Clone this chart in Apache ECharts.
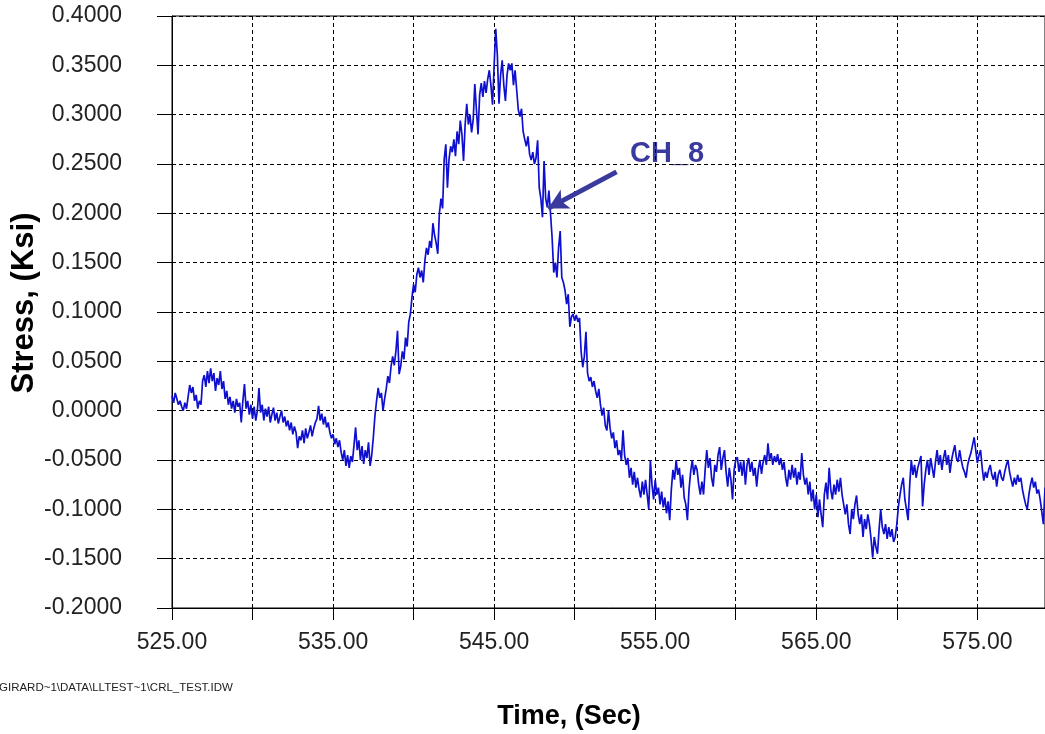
<!DOCTYPE html>
<html>
<head>
<meta charset="utf-8">
<script src="https://cdn.jsdelivr.net/npm/echarts@6/dist/echarts.min.js"></script>
<style>
html,body{margin:0;padding:0;background:#fff;}
#chart{width:1045px;height:734px;}
</style>
</head>
<body>
<div id="chart"></div>
<script>
// Sampling of the CH_8 trace (seconds)
const startTime = 525.0;
const sampleStep = 0.1;
// Stress values (Ksi), one row per second
const stress = [
 0.015, 0.008, 0.018, 0.012, 0.006, 0.010, 0.004, 0.000, 0.008, 0.002,
 0.014, 0.026, 0.018, 0.024, 0.010, 0.016, 0.002, 0.010, 0.006, 0.030,
 0.036, 0.024, 0.040, 0.028, 0.043, 0.030, 0.038, 0.020, 0.033, 0.026,
 0.040, 0.022, 0.030, 0.012, 0.020, 0.006, 0.014, 0.002, 0.010, -0.002,
 0.012, 0.004, 0.008, -0.012, 0.010, 0.027, 0.002, 0.010, -0.004, 0.006,
 -0.008, 0.004, -0.010, 0.000, 0.023, -0.002, 0.006, -0.010, 0.002, -0.006,
 0.004, -0.012, -0.004, 0.003, -0.010, -0.002, -0.013, -0.006, 0.000, -0.012,
 -0.006, -0.016, -0.010, -0.020, -0.012, -0.024, -0.016, -0.022, -0.038, -0.026,
 -0.030, -0.020, -0.033, -0.018, -0.028, -0.022, -0.015, -0.026, -0.018, -0.012,
 -0.008, 0.005, -0.010, -0.003, -0.014, -0.006, -0.017, -0.012, -0.022, -0.028,
 -0.024, -0.034, -0.028, -0.037, -0.030, -0.042, -0.050, -0.040, -0.056, -0.045,
 -0.058, -0.046, -0.052, -0.035, -0.017, -0.040, -0.030, -0.050, -0.036, -0.054,
 -0.040, -0.048, -0.032, -0.056, -0.045, -0.027, -0.005, 0.010, 0.023, 0.013,
 0.018, 0.000, 0.012, 0.022, 0.035, 0.028, 0.045, 0.055, 0.046, 0.060,
 0.081, 0.037, 0.045, 0.060, 0.052, 0.074, 0.065, 0.090, 0.098, 0.115,
 0.128, 0.120, 0.138, 0.145, 0.135, 0.142, 0.130, 0.152, 0.165, 0.158,
 0.172, 0.165, 0.190, 0.178, 0.170, 0.159, 0.200, 0.215, 0.205, 0.255,
 0.270, 0.226, 0.255, 0.268, 0.262, 0.275, 0.258, 0.283, 0.270, 0.294,
 0.280, 0.253, 0.290, 0.311, 0.290, 0.300, 0.282, 0.295, 0.331, 0.305,
 0.280, 0.320, 0.332, 0.318, 0.334, 0.322, 0.336, 0.345, 0.330, 0.310,
 0.350, 0.387, 0.360, 0.311, 0.340, 0.355, 0.330, 0.314, 0.340, 0.352,
 0.345, 0.352, 0.330, 0.345, 0.325, 0.305, 0.298, 0.306, 0.283, 0.275,
 0.268, 0.278, 0.260, 0.254, 0.262, 0.250, 0.256, 0.274, 0.226, 0.215,
 0.196, 0.253, 0.215, 0.206, 0.223, 0.200, 0.175, 0.140, 0.150, 0.135,
 0.165, 0.182, 0.135, 0.130, 0.122, 0.108, 0.118, 0.085, 0.095, 0.098,
 0.091, 0.097, 0.090, 0.094, 0.060, 0.044, 0.055, 0.080, 0.038, 0.030,
 0.034, 0.024, 0.030, 0.020, 0.013, 0.022, 0.006, -0.005, 0.003, -0.015,
 -0.020, 0.000, -0.018, -0.028, -0.022, -0.038, -0.030, -0.045, -0.040, -0.050,
 -0.020, -0.045, -0.055, -0.048, -0.068, -0.058, -0.075, -0.062, -0.078, -0.068,
 -0.080, -0.088, -0.072, -0.085, -0.070, -0.068, -0.100, -0.050, -0.075, -0.090,
 -0.070, -0.085, -0.078, -0.095, -0.082, -0.098, -0.088, -0.104, -0.092, -0.111,
 -0.080, -0.060, -0.070, -0.050, -0.065, -0.058, -0.078, -0.065, -0.088, -0.095,
 -0.111, -0.080, -0.062, -0.050, -0.065, -0.055, -0.060, -0.075, -0.085, -0.072,
 -0.085, -0.060, -0.040, -0.058, -0.048, -0.068, -0.077, -0.055, -0.062, -0.045,
 -0.037, -0.060, -0.048, -0.040, -0.062, -0.077, -0.058, -0.070, -0.090, -0.060,
 -0.050, -0.047, -0.062, -0.052, -0.066, -0.050, -0.075, -0.055, -0.048, -0.062,
 -0.052, -0.066, -0.058, -0.077, -0.060, -0.050, -0.064, -0.052, -0.045, -0.055,
 -0.033, -0.050, -0.043, -0.055, -0.046, -0.052, -0.044, -0.055, -0.048, -0.060,
 -0.052, -0.068, -0.077, -0.060, -0.070, -0.055, -0.068, -0.058, -0.075, -0.062,
 -0.070, -0.043, -0.065, -0.075, -0.068, -0.085, -0.072, -0.092, -0.080, -0.100,
 -0.085, -0.108, -0.090, -0.105, -0.118, -0.085, -0.073, -0.090, -0.058, -0.080,
 -0.090, -0.075, -0.085, -0.070, -0.082, -0.068, -0.085, -0.095, -0.105, -0.095,
 -0.115, -0.125, -0.100, -0.110, -0.095, -0.086, -0.105, -0.115, -0.105, -0.128,
 -0.110, -0.120, -0.105, -0.115, -0.130, -0.149, -0.128, -0.138, -0.145, -0.120,
 -0.100, -0.118, -0.125, -0.115, -0.130, -0.118, -0.128, -0.120, -0.133, -0.128,
 -0.115, -0.097, -0.085, -0.075, -0.068, -0.090, -0.100, -0.111, -0.075, -0.050,
 -0.065, -0.055, -0.068, -0.058, -0.052, -0.046, -0.097, -0.075, -0.060, -0.050,
 -0.065, -0.048, -0.058, -0.068, -0.052, -0.040, -0.055, -0.045, -0.060, -0.048,
 -0.040, -0.055, -0.045, -0.063, -0.050, -0.042, -0.035, -0.048, -0.052, -0.040,
 -0.050, -0.058, -0.062, -0.068, -0.055, -0.048, -0.043, -0.035, -0.027, -0.040,
 -0.053, -0.045, -0.040, -0.058, -0.071, -0.062, -0.068, -0.060, -0.055, -0.065,
 -0.070, -0.062, -0.077, -0.065, -0.060, -0.068, -0.071, -0.062, -0.055, -0.050,
 -0.062, -0.070, -0.077, -0.068, -0.075, -0.065, -0.072, -0.068, -0.080, -0.088,
 -0.095, -0.100, -0.085, -0.075, -0.068, -0.078, -0.072, -0.084, -0.080, -0.090,
 -0.088, -0.115, -0.078
];
// Axis settings
const xMin = 525, xMax = 579.2, xStep = 5, xLabelEvery = 10;
const yMin = -0.2, yMax = 0.4, yStep = 0.05;
const seriesName = 'CH_8';
const xTitle = 'Time, (Sec)';
const yTitle = 'Stress, (Ksi)';
const footerText = 'GIRARD~1\\DATA\\LLTEST~1\\CRL_TEST.IDW';
// Annotation arrow (data coordinates): tail and tip
const arrowTail = [552.6, 0.242];
const arrowTip = [548.35, 0.205];

const points = stress.map((v, i) => [+(startTime + i * sampleStep).toFixed(1), v]);

const FONT = "'Liberation Sans', Arial, sans-serif";
const chart = echarts.init(document.getElementById('chart'), null, {renderer: 'canvas'});
chart.setOption({
  animation: false,
  backgroundColor: '#ffffff',
  grid: {left: 172, top: 16, right: 0, bottom: 126, show: true, borderColor: '#000', borderWidth: 1, containLabel: false},
  xAxis: {
    type: 'value', min: xMin, max: xMax, interval: xStep,
    axisLine: {show: true, onZero: false, lineStyle: {color: '#000', width: 1}},
    axisTick: {show: true, length: 12, lineStyle: {color: '#000', width: 1}},
    axisLabel: {
      showMaxLabel: false, margin: 23, fontSize: 23, color: '#222', fontFamily: FONT,
      formatter: v => (Math.abs(((v - xMin) / xLabelEvery) - Math.round((v - xMin) / xLabelEvery)) < 1e-6 ? v.toFixed(2) : '')
    },
    splitLine: {show: true, lineStyle: {type: [4, 3], color: '#000', width: 1}}
  },
  yAxis: {
    type: 'value', min: yMin, max: yMax, interval: yStep,
    axisLine: {show: true, onZero: false, lineStyle: {color: '#000', width: 1}},
    axisTick: {show: true, length: 15, lineStyle: {color: '#000', width: 1}},
    axisLabel: {margin: 50, fontSize: 23, color: '#222', fontFamily: FONT, formatter: v => v.toFixed(4)},
    splitLine: {show: true, lineStyle: {type: [4, 3], color: '#000', width: 1}}
  },
  series: [{
    name: seriesName, type: 'line', data: points, showSymbol: false, symbol: 'none',
    lineStyle: {color: '#0f0fd0', width: 1.7}, clip: true,
    markLine: {
      silent: true, symbol: ['none', 'arrow'], symbolSize: [16, 20],
      lineStyle: {color: '#3a3a9e', width: 5, type: 'solid'},
      label: {show: false},
      data: [[{coord: arrowTail}, {coord: arrowTip}]]
    }
  }],
  graphic: [
    {type: 'text', x: 569, y: 717, style: {text: xTitle, fontSize: 27, fontWeight: 'bold', fill: '#000', fontFamily: FONT, align: 'center', verticalAlign: 'middle'}},
    {type: 'text', x: 24, y: 303, rotation: Math.PI / 2, style: {text: yTitle, fontSize: 31, fontWeight: 'bold', fill: '#000', fontFamily: FONT, align: 'center', verticalAlign: 'middle'}},
    {type: 'text', left: 630, top: 139, style: {text: seriesName, fontSize: 29, fontWeight: 'bold', fill: '#3a3a9e', fontFamily: FONT}},
    {type: 'text', left: -1, top: 682, style: {text: footerText, fontSize: 11.5, fill: '#222', fontFamily: FONT}}
  ]
});
</script>
</body>
</html>
